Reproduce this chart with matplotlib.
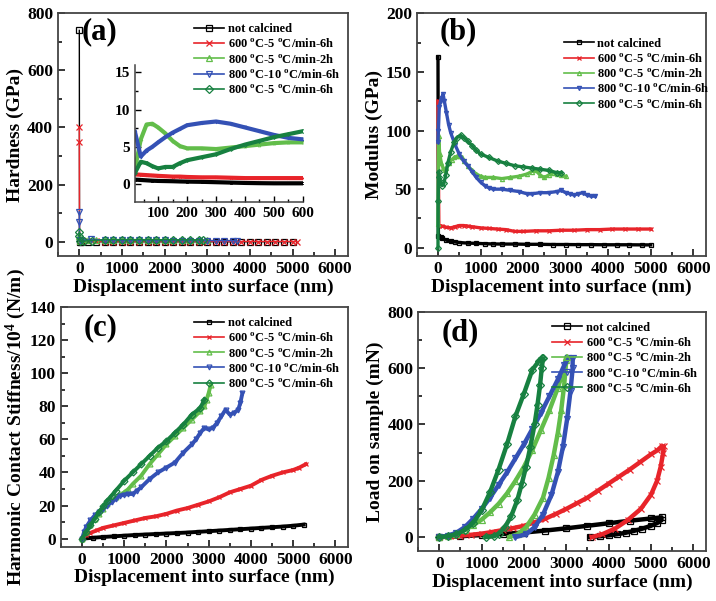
import matplotlib
matplotlib.use("Agg")
import matplotlib.pyplot as plt
from matplotlib.ticker import MultipleLocator

plt.rcParams['font.family'] = ['Liberation Serif', 'DejaVu Serif']
plt.rcParams['font.weight'] = 'bold'
plt.rcParams['axes.labelweight'] = 'bold'
plt.rcParams['mathtext.fontset'] = 'custom'
plt.rcParams['mathtext.rm'] = 'Liberation Serif:bold'
plt.rcParams['mathtext.it'] = 'Liberation Serif:italic:bold'
plt.rcParams['mathtext.bf'] = 'Liberation Serif:bold'

# series names, colours and markers
labels = ['not calcined',
          r'600 $^{\mathrm{o}}$C-5 $^{\mathrm{o}}$C/min-6h',
          r'800 $^{\mathrm{o}}$C-5 $^{\mathrm{o}}$C/min-2h',
          r'800 $^{\mathrm{o}}$C-10 $^{\mathrm{o}}$C/min-6h',
          r'800 $^{\mathrm{o}}$C-5 $^{\mathrm{o}}$C/min-6h']
colors = ['black', '#e8242a', '#62bd4a', '#3451b5', '#178040']
markers = ['s', 'x', '^', 'v', 'D']

# (a) hardness
a_nc_x = [0, 5, 50, 200, 400, 600, 800, 1000, 1200, 1400, 1600, 1800, 2000, 2200, 2400, 2600, 2800, 3000, 3200, 3400, 3600, 3800, 4000, 4200, 4400, 4600, 4800, 5000]
a_nc_y = [740, 0.6, 0.5, 0.3, 0.2, 0.1, 0.1, 0.1, 0.1, 0.1, 0.1, 0.1, 0.1, 0.1, 0.1, 0.1, 0.1, 0.1, 0.1, 0.1, 0.1, 0.1, 0.1, 0.1, 0.1, 0.1, 0.1, 0.1]
a_600_x = [0, 0, 5, 50, 200, 400, 600, 800, 1000, 1200, 1400, 1600, 1800, 2000, 2200, 2400, 2600, 2800, 3000, 3200, 3400, 3600, 3800, 4000, 4200, 4400, 4600, 4800, 5000, 5100]
a_600_y = [400, 350, 1.3, 1.2, 1.0, 0.9, 0.8, 0.8, 0.8, 0.8, 0.8, 0.8, 0.8, 0.8, 0.8, 0.8, 0.8, 0.8, 0.8, 0.8, 0.8, 0.8, 0.8, 0.8, 0.8, 0.8, 0.8, 0.8, 0.8, 0.8]
a_8052_x = [0, 5, 70, 200, 400, 600, 800, 1000, 1200, 1400, 1600, 1800, 2000, 2200, 2400, 2600, 2800, 3000]
a_8052_y = [20, 2.0, 8.0, 4.8, 5.1, 5.6, 5.6, 5.5, 5.5, 5.4, 5.4, 5.4, 5.3, 5.3, 5.3, 5.2, 5.2, 5.2]
a_8010_x = [0, 0, 5, 40, 280, 600, 800, 1000, 1200, 1400, 1600, 1800, 2000, 2200, 2400, 2600, 2800, 3000, 3200, 3400, 3600, 3700]
a_8010_y = [105, 70, 7.0, 3.7, 8.4, 6.0, 5.5, 5.2, 5.0, 4.8, 4.6, 4.5, 4.4, 4.3, 4.2, 4.1, 4.0, 4.0, 3.9, 3.9, 3.8, 3.8]
a_8056_x = [0, 0, 5, 100, 300, 600, 800, 1000, 1200, 1400, 1600, 1800, 2000, 2200, 2400, 2600, 2800, 2900]
a_8056_y = [35, 20, 1.5, 2.1, 4.0, 7.1, 7.5, 7.6, 7.6, 7.5, 7.4, 7.3, 7.2, 7.0, 6.9, 6.8, 6.7, 6.6]

# (a) inset
ins_x = [20, 40, 60, 80, 100, 125, 150, 175, 200, 250, 300, 350, 400, 450, 500, 550, 600]
ins_nc = [0.6, 0.55, 0.5, 0.45, 0.42, 0.4, 0.38, 0.35, 0.33, 0.3, 0.25, 0.2, 0.15, 0.12, 0.1, 0.1, 0.1]
ins_600 = [1.3, 1.25, 1.2, 1.15, 1.1, 1.05, 1.0, 1.0, 0.95, 0.9, 0.9, 0.85, 0.8, 0.8, 0.8, 0.8, 0.8]
ins_8052 = [2.0, 6.0, 8.0, 8.1, 7.6, 6.8, 5.8, 5.1, 4.8, 4.8, 4.7, 4.9, 5.1, 5.3, 5.5, 5.6, 5.6]
ins_8010 = [7.0, 3.7, 4.5, 5.0, 5.6, 6.3, 6.9, 7.4, 7.9, 8.2, 8.4, 8.1, 7.6, 7.1, 6.6, 6.2, 6.0]
ins_8056 = [1.5, 3.0, 2.8, 2.4, 2.1, 2.3, 2.3, 2.8, 3.2, 3.6, 4.0, 4.7, 5.3, 5.8, 6.3, 6.7, 7.1]

# (b) modulus
b_nc_x = [0, 10, 60, 100, 200, 300, 400, 500, 700, 900, 1100, 1300, 1500, 1800, 2100, 2400, 2700, 3000, 3300, 3600, 3900, 4200, 4500, 4800, 5000]
b_nc_y = [163, 10, 9, 8, 6.5, 5.5, 5, 4.5, 4, 3.8, 3.5, 3.3, 3.2, 3.2, 3, 3, 2.8, 2.8, 2.7, 2.7, 2.6, 2.6, 2.6, 2.5, 2.5]
b_600_x = [0, 20, 100, 200, 300, 400, 500, 600, 700, 800, 1000, 1200, 1400, 1600, 1800, 2000, 2300, 2600, 2900, 3200, 3500, 3800, 4100, 4400, 4700, 5000]
b_600_y = [125, 19, 18.5, 17.5, 17, 18, 19, 19, 18.5, 18, 17, 16.5, 16, 15.5, 14, 14, 14.5, 14.5, 15, 15, 15.5, 15.5, 16, 16, 16, 16]
b_8052_x = [0, 15, 40, 80, 120, 160, 200, 260, 320, 380, 440, 500, 560, 620, 700, 800, 900, 1000, 1100, 1300, 1500, 1700, 1900, 2100, 2200, 2300, 2400, 2500, 2600, 2700, 2800, 2900, 3000]
b_8052_y = [20, 95, 80, 72, 68, 66, 68, 72, 75, 77, 78, 78, 77, 74, 70, 66, 63, 61, 60, 60, 59, 60, 61, 63, 65, 66, 62, 60, 62, 64, 63, 62, 61]
b_8010_x = [0, 10, 30, 60, 90, 120, 150, 200, 250, 300, 400, 500, 600, 700, 800, 900, 1000, 1100, 1200, 1300, 1500, 1700, 1900, 2100, 2200, 2400, 2600, 2800, 2900, 3000, 3100, 3200, 3300, 3400, 3500, 3600, 3700]
b_8010_y = [90, 100, 120, 125, 128, 131, 125, 115, 105, 98, 88, 80, 74, 70, 65, 60, 56, 53, 51, 50, 50, 49, 48, 46, 46, 47, 47, 48, 49, 47, 46, 45, 46, 47, 45, 44, 44]
b_8056_x = [0, 5, 15, 30, 60, 100, 140, 180, 230, 300, 380, 450, 530, 600, 700, 800, 900, 1000, 1200, 1400, 1600, 1800, 2000, 2200, 2400, 2600, 2800, 2900]
b_8056_y = [0, 40, 65, 60, 56, 53, 55, 62, 72, 82, 90, 94, 96, 94, 91, 87, 83, 80, 77, 74, 72, 70, 69, 68, 67, 66, 64, 64]

# (c) harmonic contact stiffness
c_nc_x = [0, 250, 500, 750, 1000, 1250, 1500, 1750, 2000, 2250, 2500, 2750, 3000, 3250, 3500, 3750, 4000, 4250, 4500, 4750, 5000, 5250]
c_nc_y = [0, 0.5, 1, 1.4, 1.8, 2.2, 2.5, 2.8, 3.1, 3.4, 3.7, 4.1, 4.5, 4.9, 5.3, 5.7, 6.1, 6.5, 6.9, 7.3, 7.8, 8.5]
c_600_x = [0, 100, 200, 350, 500, 750, 1000, 1250, 1500, 1750, 2000, 2250, 2500, 2750, 3000, 3250, 3500, 3750, 4000, 4250, 4500, 4750, 5000, 5150, 5300]
c_600_y = [0, 2, 3.5, 5, 6.5, 8, 9.5, 11, 12.5, 13.5, 15, 17, 18.5, 20.5, 22.5, 25, 28, 30, 32, 35.5, 38, 40, 41.5, 43, 45]
c_8052_x = [0, 100, 200, 300, 400, 500, 600, 800, 1000, 1100, 1200, 1400, 1600, 1800, 2000, 2200, 2400, 2600, 2800, 2900, 2950, 3000, 3050]
c_8052_y = [0, 4, 8, 12, 15, 18, 21, 25, 28, 30, 33, 38, 45, 51, 57, 62, 67, 72, 77, 80, 84, 88, 93]
c_8010_x = [0, 50, 100, 200, 300, 400, 500, 600, 700, 800, 900, 1000, 1100, 1200, 1300, 1400, 1600, 1800, 2000, 2200, 2400, 2600, 2700, 2800, 2900, 3000, 3100, 3200, 3300, 3400, 3500, 3600, 3700, 3750, 3800]
c_8010_y = [0, 4, 7, 11, 14, 16, 18, 20, 22, 24, 26, 26.5, 27, 27, 29, 31, 36, 40, 43, 46, 52, 57, 60, 64, 67, 66, 67, 70, 74, 78, 75, 76, 78, 82, 88]
c_8056_x = [0, 100, 200, 300, 400, 500, 600, 700, 800, 1000, 1200, 1400, 1600, 1800, 2000, 2200, 2400, 2600, 2800, 2900]
c_8056_y = [0, 4, 8, 12, 16, 19.5, 23, 26, 29, 35, 40, 45, 50, 55, 59, 64, 69, 75, 79, 84]

# (d) load on sample (loading, hold, unloading)
d_nc_x = [0, 500, 1000, 1500, 2000, 2500, 3000, 3500, 4000, 4500, 5000, 5250, 5250, 5150, 5000, 4800, 4600, 4400, 4200, 4000, 3800, 3550]
d_nc_y = [0, 3, 7, 11, 16, 23, 31, 40, 49, 58, 66, 70, 60, 50, 40, 30, 22, 15, 10, 6, 3, 0]
d_600_x = [0, 250, 500, 750, 1000, 1250, 1500, 1750, 2000, 2250, 2500, 2750, 3000, 3250, 3500, 3750, 4000, 4250, 4500, 4750, 5000, 5150, 5250, 5300, 5290, 5230, 5145, 5000, 4760, 4450, 4150, 3850, 3600]
d_600_y = [0, 2, 5, 8, 12, 18, 25, 32, 40, 52, 65, 82, 100, 120, 140, 165, 190, 215, 240, 267, 294, 308, 322, 322, 300, 250, 200, 150, 100, 60, 30, 10, 0]
d_8052_x = [0, 200, 400, 600, 800, 1000, 1200, 1400, 1600, 1800, 2000, 2200, 2400, 2600, 2800, 2950, 3000, 3000, 2950, 2880, 2800, 2700, 2580, 2450, 2250, 2050, 1850, 1650]
d_8052_y = [0, 4, 12, 25, 42, 62, 88, 118, 155, 200, 250, 310, 380, 450, 530, 600, 640, 630, 540, 450, 370, 290, 210, 140, 80, 35, 10, 0]
d_8010_x = [0, 200, 400, 600, 800, 1000, 1200, 1400, 1600, 1800, 2000, 2200, 2400, 2600, 2800, 2950, 3050, 3150, 3150, 3100, 3020, 2920, 2800, 2650, 2450, 2250, 2050, 1800]
d_8010_y = [0, 5, 15, 35, 65, 100, 140, 185, 230, 280, 330, 385, 440, 500, 560, 610, 638, 638, 600, 520, 420, 320, 230, 150, 80, 35, 10, 0]
d_8056_x = [0, 200, 400, 600, 800, 1000, 1200, 1400, 1600, 1800, 2000, 2200, 2350, 2420, 2450, 2420, 2380, 2320, 2250, 2150, 2050, 1950, 1840, 1700, 1550, 1400, 1300, 1100]
d_8056_y = [0, 3, 10, 25, 50, 95, 160, 240, 330, 430, 510, 595, 625, 635, 635, 600, 540, 470, 400, 320, 250, 190, 130, 75, 35, 12, 3, 0]


def style(ax, ymaj, ymin):
    ax.set_xlim(-500, 6300)
    ax.xaxis.set_major_locator(MultipleLocator(1000))
    ax.xaxis.set_minor_locator(MultipleLocator(500))
    ax.yaxis.set_major_locator(MultipleLocator(ymaj))
    ax.yaxis.set_minor_locator(MultipleLocator(ymin))
    ax.tick_params(which='both', direction='in', top=False, right=False,
                   labelsize=12.5, width=1.1)
    ax.tick_params(which='major', length=5)
    ax.tick_params(which='minor', length=3)
    for s in ax.spines.values():
        s.set_color('#444444')
        s.set_linewidth(1.3)
    ax.set_xlabel('Displacement into surface (nm)', fontsize=14, labelpad=1)


def draw(ax, xs, ys, lw=1.6, ms=4.0):
    for i in range(5):
        ax.plot(xs[i], ys[i], color=colors[i], marker=markers[i], lw=lw,
                ms=ms, mfc='none', mew=0.9, label=labels[i])


def legend(ax, anchor):
    leg = ax.legend(loc='upper right', bbox_to_anchor=anchor, frameon=False,
                    fontsize=9, handlelength=2.4, labelspacing=0.18,
                    handletextpad=0.3, borderaxespad=0.2)
    for h in leg.get_lines():
        h.set_linewidth(1.2)


fig = plt.figure(figsize=(7.16, 6.01), dpi=100)

# (a)
ax1 = fig.add_axes([0.081, 0.574, 0.405, 0.404])
draw(ax1, [a_nc_x, a_600_x, a_8052_x, a_8010_x, a_8056_x],
     [a_nc_y, a_600_y, a_8052_y, a_8010_y, a_8056_y], lw=1.0, ms=4.5)
style(ax1, 200, 100)
ax1.set_ylim(-50, 800)
ax1.set_ylabel('Hardness (GPa)', fontsize=14, labelpad=2)
ax1.text(0.08, 0.985, '(a)', transform=ax1.transAxes, fontsize=22,
         fontweight='bold', va='top')
legend(ax1, (1.0, 0.99))

ins = fig.add_axes([0.1885, 0.664, 0.2346, 0.228])
for i, yv in enumerate([ins_nc, ins_600, ins_8052, ins_8010, ins_8056]):
    ins.plot(ins_x, yv, color=colors[i], marker=markers[i], lw=3, ms=2,
             mfc='none', mew=0.6)
ins.set_xlim(20, 600)
ins.set_ylim(-2.4, 16)
ins.xaxis.set_major_locator(MultipleLocator(100))
ins.yaxis.set_major_locator(MultipleLocator(5))
ins.yaxis.set_minor_locator(MultipleLocator(2.5))
ins.xaxis.set_minor_locator(MultipleLocator(50))
ins.spines['top'].set_visible(False)
ins.spines['right'].set_visible(False)
for s in ['left', 'bottom']:
    ins.spines[s].set_color('#444444')
    ins.spines[s].set_linewidth(1.1)
ins.tick_params(which='both', direction='in', labelsize=11, width=1)
ins.tick_params(which='major', length=4)
ins.tick_params(which='minor', length=2)
ins.patch.set_alpha(0)

# (b)
ax2 = fig.add_axes([0.582, 0.574, 0.404, 0.404])
draw(ax2, [b_nc_x, b_600_x, b_8052_x, b_8010_x, b_8056_x],
     [b_nc_y, b_600_y, b_8052_y, b_8010_y, b_8056_y], lw=2.4, ms=3)
style(ax2, 50, 25)
ax2.set_ylim(-7, 200)
ax2.set_ylabel('Modulus (GPa)', fontsize=14, labelpad=2)
ax2.text(0.08, 0.985, '(b)', transform=ax2.transAxes, fontsize=22,
         fontweight='bold', va='top')
legend(ax2, (1.04, 0.93))

# (c)
ax3 = fig.add_axes([0.085, 0.090, 0.401, 0.399])
draw(ax3, [c_nc_x, c_600_x, c_8052_x, c_8010_x, c_8056_x],
     [c_nc_y, c_600_y, c_8052_y, c_8010_y, c_8056_y], lw=2.8, ms=3.5)
style(ax3, 20, 10)
ax3.set_ylim(-5, 140)
ax3.set_ylabel(r'Harmonic Contact Stiffness/10$^{4}$ (N/m)', fontsize=14,
               labelpad=1)
ax3.text(0.08, 0.975, '(c)', transform=ax3.transAxes, fontsize=22,
         fontweight='bold', va='top')
legend(ax3, (1.0, 0.99))

# (d)
ax4 = fig.add_axes([0.584, 0.083, 0.402, 0.398])
draw(ax4, [d_nc_x, d_600_x, d_8052_x, d_8010_x, d_8056_x],
     [d_nc_y, d_600_y, d_8052_y, d_8010_y, d_8056_y], lw=3.2, ms=4.5)
style(ax4, 200, 100)
ax4.set_ylim(-50, 800)
ax4.set_ylabel('Load on sample (mN)', fontsize=14, labelpad=2)
ax4.text(0.08, 0.975, '(d)', transform=ax4.transAxes, fontsize=22,
         fontweight='bold', va='top')
legend(ax4, (1.0, 0.99))

fig.savefig('out.png', dpi=100)
